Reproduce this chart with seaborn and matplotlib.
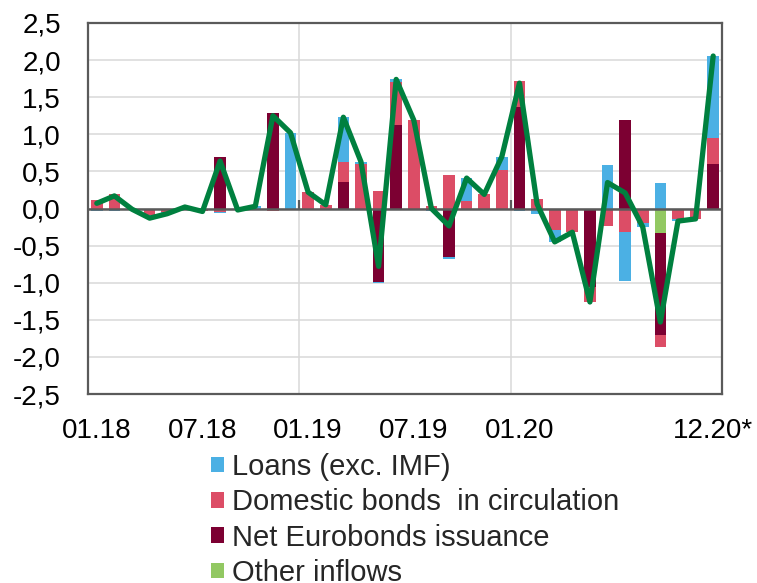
import numpy as np
import pandas as pd
import matplotlib
matplotlib.use("Agg")
import matplotlib.pyplot as plt
from matplotlib.patches import Patch
import seaborn as sns

# ---------------- data (bn USD per month) ----------------
months = ["01.18", "02.18", "03.18", "04.18", "05.18", "06.18", "07.18", "08.18", "09.18", "10.18", "11.18", "12.18",
          "01.19", "02.19", "03.19", "04.19", "05.19", "06.19", "07.19", "08.19", "09.19", "10.19", "11.19", "12.19",
          "01.20", "02.20", "03.20", "04.20", "05.20", "06.20", "07.20", "08.20", "09.20", "10.20", "11.20", "12.20"]

loans = [-0.04, -0.03, 0.00, -0.04, -0.02, 0.02, 0.00, -0.015, 0.00, 0.03, -0.01, 1.02,
         0.00, 0.00, 0.61, 0.03, -0.02, 0.03, 0.00, -0.04, -0.03, 0.31, 0.00, 0.18,
         -0.03, -0.07, -0.16, -0.01, 0.00, 0.58, -0.67, -0.06, 0.34, -0.03, 0.00, 1.10]

domestic = [0.11, 0.20, -0.01, -0.09, -0.05, 0.00, -0.04, -0.045, -0.02, 0.00, -0.03, 0.00,
            0.22, 0.05, 0.26, 0.60, 0.23, 0.59, 1.19, 0.04, 0.445, 0.10, 0.19, 0.52,
            0.35, 0.13, -0.29, -0.31, -0.20, -0.23, -0.31, -0.19, -0.17, -0.14, -0.14, 0.355]

eurobonds = [0.00, 0.00, 0.00, 0.00, 0.00, 0.00, 0.00, 0.70, 0.00, 0.00, 1.29, 0.00,
             0.00, 0.00, 0.36, 0.00, -0.99, 1.12, 0.00, 0.00, -0.65, 0.00, 0.00, 0.00,
             1.37, 0.00, 0.00, 0.00, -1.06, 0.00, 1.19, 0.00, -1.37, 0.00, 0.00, 0.60]

other = [0.00] * 32 + [-0.33] + [0.00] * 3

total = [0.07, 0.17, -0.01, -0.13, -0.07, 0.02, -0.04, 0.64, -0.02, 0.03, 1.25, 1.02,
         0.22, 0.05, 1.23, 0.63, -0.78, 1.74, 1.19, 0.00, -0.235, 0.41, 0.19, 0.70,
         1.69, 0.06, -0.45, -0.32, -1.26, 0.35, 0.21, -0.25, -1.53, -0.17, -0.14, 2.055]

tick_pos = [0, 6, 12, 18, 24, 35]
tick_labels = ["01.18", "07.18", "01.19", "07.19", "01.20", "12.20*"]

legend_labels = ["Loans (exc. IMF)", "Domestic bonds  in circulation", "Net Eurobonds issuance", "Other inflows"]

# ---------------- style ----------------
C_LOANS = "#4BB0E4"
C_DOM = "#DC4D66"
C_EURO = "#7C0032"
C_OTHER = "#92C862"
C_LINE = "#00803F"
AX_COL = "#5A5A5A"
GRID_COL = "#D9D9D9"

sns.set_style("white")
plt.rcParams["font.family"] = ["Liberation Sans", "DejaVu Sans"]
FS = 20

fig = plt.figure(figsize=(7.57, 5.83), dpi=100)
ax = fig.add_axes([88 / 757, 1 - 394 / 583, (722 - 88) / 757, (394 - 23) / 583])

x = np.arange(len(months))
# stacking order from zero outward: other, eurobonds, domestic, loans
series = [np.array(other), np.array(eurobonds), np.array(domestic), np.array(loans)]
colors = [C_OTHER, C_EURO, C_DOM, C_LOANS]

pos_cum = np.cumsum([np.clip(s, 0, None) for s in series], axis=0)
neg_cum = np.cumsum([np.clip(s, None, 0) for s in series], axis=0)

for k in range(len(series) - 1, -1, -1):
    for cum in (pos_cum, neg_cum):
        df = pd.DataFrame({"x": x, "v": cum[k]})
        sns.barplot(data=df, x="x", y="v", native_scale=True, orient="x",
                    color=colors[k], saturation=1, width=0.66, linewidth=0,
                    errorbar=None, ax=ax, zorder=2)

# zero line and the small category ticks on it
ax.axhline(0, color=AX_COL, lw=1.8, zorder=2.5)
ax.vlines([11.5, 23.5], 0, 0.12, color=AX_COL, lw=1.6, zorder=2.5)

# total line
sns.lineplot(x=x, y=total, color=C_LINE, linewidth=3.8, ax=ax, zorder=3,
             solid_joinstyle="round", solid_capstyle="round")

# axes
ax.set_xlim(-0.5, 35.5)
ax.set_ylim(-2.5, 2.5)
yt = np.arange(-2.5, 2.51, 0.5)
ax.set_yticks(yt)
ax.set_yticklabels([f"{v:.1f}".replace(".", ",") for v in yt], fontsize=FS)
ax.set_xticks(tick_pos)
ax.set_xticklabels(tick_labels, fontsize=FS)
ax.set_xticks([11.5, 23.5], minor=True)
ax.tick_params(axis="x", which="both", length=0, pad=17, colors="black")
ax.tick_params(axis="y", direction="in", length=5, width=1.5, color=AX_COL, pad=19.5, labelcolor="black")
ax.yaxis.grid(True, color=GRID_COL, lw=1.1, zorder=0)
ax.xaxis.grid(True, which="minor", color=GRID_COL, lw=1.1, zorder=0)
ax.xaxis.grid(False, which="major")
ax.set_axisbelow(True)
ax.set_xlabel("")
ax.set_ylabel("")
for sp in ax.spines.values():
    sp.set_visible(True)
    sp.set_color(AX_COL)
    sp.set_linewidth(1.6)

handles = [Patch(facecolor=c, edgecolor="none") for c in [C_LOANS, C_DOM, C_EURO, C_OTHER]]
fig.legend(handles, legend_labels, loc="upper left", bbox_to_anchor=(210.5 / 757, 1 - 453 / 583),
           frameon=False, fontsize=21, handlelength=0.45, handleheight=0.45,
           handletextpad=0.27, labelspacing=0.25, borderpad=0, borderaxespad=0)

fig.savefig("out.png", dpi=100)
